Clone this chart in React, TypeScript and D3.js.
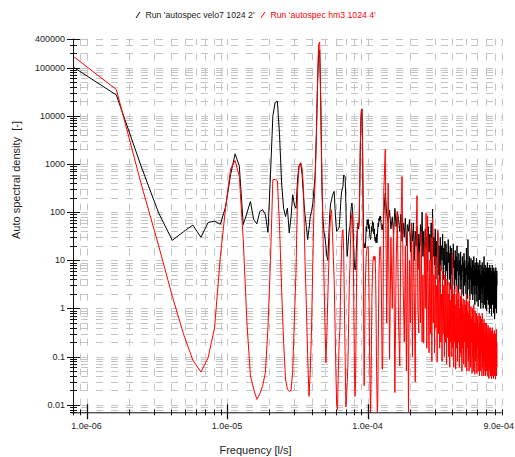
import { useEffect, useRef } from 'react';
import { select, scaleLog, line } from 'd3';

const WIDTH = 515;
const HEIGHT = 457;

// spectrum bin spacing [1/s]; low part is every bin, high part every 4th bin
const FREQ_STEP = 8.14e-7;
const HF_START_BIN = 164;
const HF_BIN_STEP = 4;

// bins 1..160
const velo7Low = [
  100000, 27000, 900, 96, 26, 39, 54, 30, 61, 65,
  56, 131, 600, 1620, 910, 55, 96, 166, 70, 57,
  103, 112, 89, 38, 600, 10000, 19000, 20000, 4000, 400,
  120, 81, 121, 37, 80, 229, 140, 120, 500, 955,
  1040, 600, 200, 88, 50, 27, 45, 80, 103, 150,
  300, 600, 4000, 40000, 200000, 230000, 20000, 500, 80, 40,
  30, 20, 12, 10, 30, 90, 150, 180, 220, 250,
  270, 120, 60, 40, 42, 45, 47, 80, 150, 250,
  300, 340, 590, 560, 550, 150, 25, 12, 20, 30,
  43, 50, 90, 130, 155, 110, 40, 15, 8, 6.4,
  6.4, 15, 30, 50, 60, 45, 60, 300, 2000, 8000,
  13000, 13600, 3000, 200, 25, 18, 22, 18, 25, 50,
  40, 70, 55, 70, 45, 55, 35, 30, 27, 35,
  50, 40, 64, 55, 60, 35, 45, 28, 25, 30,
  23, 35, 23, 30, 45, 60, 50, 75, 65, 82,
  70, 82, 60, 50, 45, 43, 55, 43, 60, 90,
];

const hm3Low = [
  167000, 35000, 390, 20, 1.8, 0.3, 0.085, 0.048, 0.095, 0.4,
  12, 130, 780, 1180, 550, 27, 0.5, 0.04, 0.021, 0.013,
  0.017, 0.025, 0.047, 0.4, 10, 470, 480, 450, 50, 2.5,
  0.2, 0.034, 0.021, 0.019, 0.02, 0.05, 0.6, 6, 300, 900,
  1070, 800, 300, 10, 1.2, 0.1, 0.015, 0.05, 0.37, 8,
  120, 470, 3000, 40000, 300000, 340000, 15000, 600, 43, 5,
  0.5, 0.075, 0.3, 1.8, 8, 40, 90, 112, 40, 12,
  4, 0.5, 0.05, 0.01, 0.008, 0.05, 0.2, 0.37, 3, 15,
  35, 43, 15, 1, 0.1, 0.009, 0.015, 0.03, 0.075, 0.5,
  3, 7.5, 30, 70, 95, 95, 20, 1, 0.05, 0.015,
  0.05, 1, 10, 40, 60, 50, 80, 400, 2500, 8000,
  13000, 14000, 2500, 100, 1, 0.025, 0.2, 2, 6, 12,
  16, 19, 19, 19, 8, 1, 0.1, 0.02, 0.007, 0.03,
  0.3, 2, 5, 9, 12, 12, 10, 12, 12, 5,
  1, 0.1, 0.02, 0.007, 0.01, 0.1, 1, 5, 12, 19,
  19, 19, 8, 2, 0.3, 0.055, 0.055, 0.3, 10, 250,
];

// bins 164, 168, ... 1024
const velo7High = [
  250, 90, 60, 110, 45, 80, 35, 120, 50, 103,
  70, 40, 90, 25, 60, 30, 75, 20, 55, 40,
  70, 15, 45, 25, 60, 10, 40, 20, 50, 6.4,
  35, 15, 55, 20, 100, 12, 40, 8, 45, 18,
  30, 6, 50, 15, 35, 10, 60, 5, 116, 12,
  30, 8, 45, 4, 25, 12, 37, 5, 20, 3.5,
  30, 6, 20, 10, 35, 4, 18, 8, 25, 3,
  22, 6, 15, 3, 27, 9, 14, 4, 20, 2.5,
  18, 5, 12, 3, 22, 7, 10, 2.2, 16, 4,
  12, 3, 20, 6, 9, 2, 14, 5, 10, 2.5,
  15, 4, 8, 2, 12, 6, 9, 1.8, 14, 3,
  10, 3.5, 7, 2, 18, 5, 8, 1.6, 27, 4,
  9, 2.5, 12, 1.5, 8, 4, 11, 2, 7, 3,
  10, 1.5, 6, 3, 12, 2, 8, 1.2, 9, 3,
  7, 2, 11, 1.4, 6, 3, 9, 1.1, 8, 2.5,
  6, 1.5, 10, 2, 5, 1, 8, 2.5, 6, 1.3,
  9, 2, 5, 1, 7, 3, 12, 1.2, 6, 2,
  8, 1, 5, 2.5, 7, 0.9, 6, 2, 9, 1.5,
  5, 1.2, 7, 2, 6, 0.8, 8, 2.5, 5, 1,
  7, 1.5, 5, 0.7, 6, 2, 8, 1.2, 4, 1.8,
  6, 0.8, 7, 1.5, 5, 0.6, 6, 2, 4, 1,
  7, 1.3, 5, 0.8, 6, 3,
];

const hm3High = [
  2000, 0.5, 400, 0.088, 30, 1, 60, 0.018, 8, 100,
  0.5, 0.064, 50, 550, 3, 0.2, 20, 0.05, 40, 0.007,
  10, 0.5, 60, 0.1, 25, 2, 0.03, 30, 219, 1,
  0.31, 15, 0.5, 40, 0.2, 5, 0.19, 20, 1, 95,
  0.15, 84, 2, 0.12, 10, 0.3, 30, 0.08, 75, 0.5,
  5, 0.12, 12, 0.4, 3, 0.077, 43, 0.3, 4, 0.15,
  8, 0.2, 2, 0.08, 6, 0.3, 3, 0.1, 5, 0.2,
  3, 0.07, 4, 0.25, 2, 0.1, 3.5, 0.06, 1.5, 0.2,
  3, 0.1, 14, 0.15, 2, 0.06, 2.5, 0.2, 1.2, 0.055,
  2, 0.15, 3, 0.08, 1.5, 0.2, 2.2, 0.06, 1, 0.12,
  1.8, 0.1, 2.5, 0.05, 1.2, 0.15, 1.6, 0.07, 0.8, 0.2,
  1.5, 0.06, 1.2, 0.12, 2, 0.05, 0.9, 0.15, 1.4, 0.08,
  0.8, 0.05, 1.8, 0.1, 0.7, 0.06, 1.1, 0.2, 0.6, 0.045,
  1, 0.1, 0.6, 0.05, 1.2, 0.12, 0.5, 0.043, 0.9, 0.08,
  0.5, 0.1, 0.8, 0.045, 0.6, 0.15, 0.7, 0.05, 0.4, 0.09,
  0.8, 0.04, 0.5, 0.1, 0.7, 0.05, 0.4, 0.12, 0.6, 0.04,
  0.8, 0.06, 0.4, 0.1, 0.5, 0.04, 0.6, 0.08, 0.35, 0.05,
  0.5, 0.04, 0.3, 0.09, 0.5, 0.05, 0.4, 0.1, 0.3, 0.04,
  0.45, 0.06, 0.3, 0.035, 0.4, 0.08, 0.25, 0.05, 0.4, 0.04,
  0.3, 0.07, 0.35, 0.035, 0.25, 0.06, 0.4, 0.04, 0.2, 0.05,
  0.3, 0.035, 0.25, 0.07, 0.35, 0.04, 0.2, 0.05, 0.3, 0.034,
  0.25, 0.05, 0.37, 0.04, 0.2, 0.06,
];

const seriesNames = ["Run 'autospec velo7 1024 2'", "Run 'autospec hm3 1024 4'"];
const seriesColors = ['#000000', '#ff0000'];

const xTickValues = [1e-6, 1e-5, 1e-4, 9e-4];
const xTickLabels = ['1.0e-06', '1.0e-05', '1.0e-04', '9.0e-04'];
const yTickValues = [400000, 100000, 10000, 1000, 100, 10, 1, 0.1, 0.01];
const yTickLabels = ['400000', '100000', '10000', '1000', '100', '10', '1', '0.1', '0.01'];

const FONT = "'Liberation Sans', Arial, sans-serif";

const toPoints = (low, high) => [
  ...low.map((v, i) => ({ f: (i + 1) * FREQ_STEP, v })),
  ...high.map((v, i) => ({ f: (HF_START_BIN + i * HF_BIN_STEP) * FREQ_STEP, v })),
];

const isDecade = (v) => Math.abs(Math.log10(v) - Math.round(Math.log10(v))) < 1e-6;

const SpectrumChart = () => {
  const svgRef = useRef(null);

  useEffect(() => {
    const svg = select(svgRef.current);
    svg.selectAll('*').remove();

    const left = 73;
    const right = 501.7;
    const top = 38.6;
    const bottom = 412.3;

    const x = scaleLog().domain([0.8e-6, 9e-4]).range([left, right]);
    const y = scaleLog().domain([0.007, 400000]).range([bottom, top]);

    // grid
    const grid = svg.append('g').attr('stroke', '#c4c4c4').attr('stroke-width', 1);
    grid
      .selectAll('.hgrid')
      .data(y.ticks())
      .join('line')
      .attr('x1', left)
      .attr('x2', right)
      .attr('y1', (d) => Math.round(y(d)) + 0.5)
      .attr('y2', (d) => Math.round(y(d)) + 0.5)
      .attr('stroke-dasharray', '7 8')
      .attr('stroke-dashoffset', 7);
    grid
      .selectAll('.vgrid')
      .data(x.ticks().filter((d) => d > 0.85e-6))
      .join('line')
      .attr('x1', (d) => Math.round(x(d)) + 0.5)
      .attr('x2', (d) => Math.round(x(d)) + 0.5)
      .attr('y1', top)
      .attr('y2', bottom)
      .attr('stroke-dasharray', '7 8');

    // data
    svg
      .append('clipPath')
      .attr('id', 'plot-clip')
      .append('rect')
      .attr('x', left)
      .attr('y', top - 2)
      .attr('width', right - left)
      .attr('height', bottom - top + 2);

    const lineGen = line()
      .x((d) => x(d.f))
      .y((d) => y(d.v));

    const allSeries = [toPoints(velo7Low, velo7High), toPoints(hm3Low, hm3High)];
    svg
      .append('g')
      .attr('clip-path', 'url(#plot-clip)')
      .selectAll('path')
      .data(allSeries)
      .join('path')
      .attr('fill', 'none')
      .attr('stroke', (d, i) => seriesColors[i])
      .attr('stroke-width', 1)
      .attr('stroke-linejoin', 'round')
      .attr('d', lineGen);

    // axes
    const axes = svg.append('g').attr('stroke', '#111').attr('stroke-width', 1);
    axes.append('line').attr('x1', left + 0.5).attr('x2', left + 0.5).attr('y1', top).attr('y2', bottom + 3);
    axes.append('line').attr('x1', left - 2).attr('x2', right).attr('y1', bottom + 0.5).attr('y2', bottom + 0.5);

    axes
      .selectAll('.ytick')
      .data(y.ticks())
      .join('line')
      .attr('x1', (d) => (isDecade(d) || d === 400000 ? left - 6 : left - 3))
      .attr('x2', (d) => (isDecade(d) || d === 400000 ? left + 7 : left + 4))
      .attr('y1', (d) => Math.round(y(d)) + 0.5)
      .attr('y2', (d) => Math.round(y(d)) + 0.5);

    axes
      .selectAll('.xtick')
      .data(x.ticks().filter((d) => d > 0.85e-6))
      .join('line')
      .attr('x1', (d) => Math.round(x(d)) + 0.5)
      .attr('x2', (d) => Math.round(x(d)) + 0.5)
      .attr('y1', (d) => (isDecade(d) ? bottom - 8 : bottom - 3))
      .attr('y2', (d) => (isDecade(d) ? bottom + 7 : bottom + 3))
      .attr('stroke-width', (d) => (isDecade(d) ? 1.3 : 1));

    const labels = svg.append('g').attr('font-family', FONT).attr('font-size', 9).attr('fill', '#222');
    labels
      .selectAll('.ylabel')
      .data(yTickValues)
      .join('text')
      .attr('x', 65)
      .attr('y', (d) => y(d) + 3)
      .attr('text-anchor', 'end')
      .text((d, i) => yTickLabels[i]);
    labels
      .selectAll('.xlabel')
      .data(xTickValues)
      .join('text')
      .attr('x', (d, i) => (i === xTickValues.length - 1 ? WIDTH - 1 : x(d)))
      .attr('y', 429)
      .attr('text-anchor', (d, i) => (i === xTickValues.length - 1 ? 'end' : 'middle'))
      .text((d, i) => xTickLabels[i]);

    // titles
    svg
      .append('text')
      .attr('x', 255.5)
      .attr('y', 454)
      .attr('text-anchor', 'middle')
      .attr('font-family', FONT)
      .attr('font-size', 11)
      .attr('fill', '#222')
      .text('Frequency [l/s]');
    svg
      .append('text')
      .attr('transform', 'translate(19.5,180) rotate(-90)')
      .attr('text-anchor', 'middle')
      .attr('font-family', FONT)
      .attr('font-size', 11)
      .attr('fill', '#222')
      .style('white-space', 'pre')
      .text('Auto spectral density  [-]');

    // legend
    const legendX = [136, 261];
    const legend = svg
      .append('g')
      .selectAll('g')
      .data(seriesNames)
      .join('g')
      .attr('transform', (d, i) => `translate(${legendX[i]},0)`);
    legend
      .append('line')
      .attr('x1', 0)
      .attr('y1', 18)
      .attr('x2', 4)
      .attr('y2', 12)
      .attr('stroke', (d, i) => seriesColors[i])
      .attr('stroke-width', 1);
    legend
      .append('text')
      .attr('x', 9.5)
      .attr('y', 18)
      .attr('font-family', FONT)
      .attr('font-size', 8.7)
      .attr('fill', (d, i) => (i === 0 ? '#222' : '#ff0000'))
      .text((d) => d);
  }, []);

  return (
    <div style={{ position: 'absolute', left: 0, top: 0 }}>
      <svg ref={svgRef} width={WIDTH} height={HEIGHT} style={{ display: 'block', background: '#fff' }} />
    </div>
  );
};

export default function App() {
  return <SpectrumChart />;
}
